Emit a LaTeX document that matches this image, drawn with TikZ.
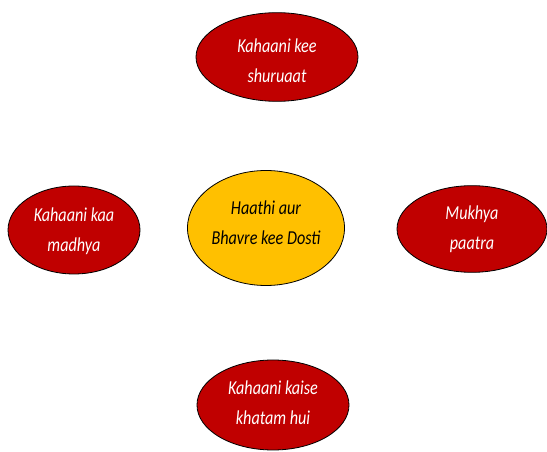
\documentclass[tikz,border=0pt]{standalone}
\usepackage{fontspec}
\setmainfont{Carlito}[FakeStretch=0.82]
\usetikzlibrary{shapes.geometric}
\definecolor{storyred}{HTML}{C00000}
\definecolor{storygold}{HTML}{FFC000}
\newcommand{\lstrut}{\rule[-11pt]{0pt}{22pt}}
\tikzset{
  part/.style={ellipse, draw=black, line width=0.6pt, fill=storyred, inner sep=0pt},
  mainidea/.style={part, fill=storygold},
  parttext/.style={inner sep=0pt, text=white, align=center,
    font=\fontsize{14.8}{22.5}\selectfont\itshape},
  maintext/.style={parttext, text=black}
}
\begin{document}
\begin{tikzpicture}[x=0.75pt,y=-0.75pt]
\useasboundingbox (0,0) rectangle (547,452);
\clip (0,0) rectangle (547,452);
% centre
\node[mainidea, minimum width=117.75pt, minimum height=86.25pt] (dosti) at (266,228) {};
\node[maintext] (dosti-t) at (266,230) {\lstrut Haathi aur\\\lstrut Bhavre kee Dosti};
% four parts of the story
\node[part, minimum width=121.5pt, minimum height=66.5pt] (shuru) at (277,57) {};
\node[parttext] (shuru-t) at (277,68) {\lstrut Kahaani kee\\\lstrut shuruaat};
\node[part, minimum width=99pt, minimum height=66pt] (madhya) at (74,230) {};
\node[parttext] (madhya-t) at (74,237) {\lstrut Kahaani kaa\\\lstrut madhya};
\node[part, minimum width=112.5pt, minimum height=65pt] (paatra) at (472,229) {};
\node[parttext] (paatra-t) at (472,235) {\lstrut Mukhya\\\lstrut paatra};
\node[part, minimum width=114pt, minimum height=67.5pt] (ant) at (273,405) {};
\node[parttext] (ant-t) at (273,410) {\lstrut Kahaani kaise\\\lstrut khatam hui};
\end{tikzpicture}
\end{document}
